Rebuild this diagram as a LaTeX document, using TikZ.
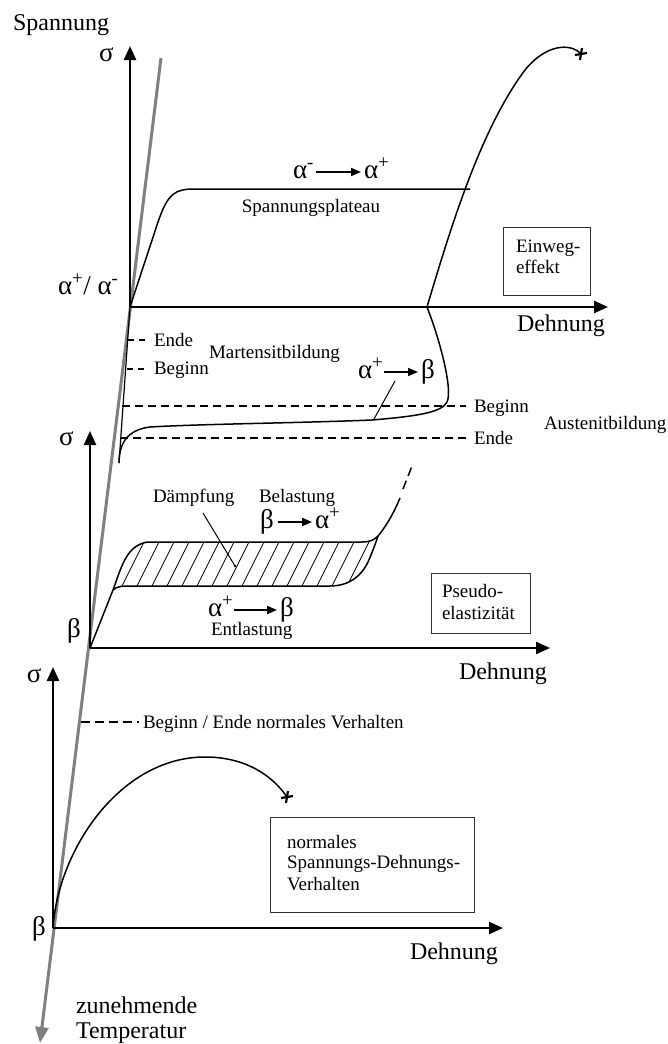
\documentclass[tikz,border=0pt]{standalone}
\usepackage{fontspec}
\setmainfont{Liberation Serif}
\usetikzlibrary{arrows.meta}
\begin{document}
\begin{tikzpicture}[x=1pt,y=-1pt,
 big/.style={font=\fontsize{24}{26}\selectfont,inner sep=0pt,outer sep=0pt},
 greek/.style={font=\fontsize{27}{29}\selectfont,inner sep=0pt,outer sep=0pt},
 small/.style={font=\fontsize{19}{21}\selectfont,inner sep=0pt,outer sep=0pt},
 axis/.style={line width=2.4pt,-{Triangle[length=14pt,width=12pt]}},
 crv/.style={line width=1.5pt},
 dsh/.style={line width=1.4pt,dash pattern=on 8pt off 5pt},
 sdsh/.style={line width=1.4pt,dash pattern=on 6pt off 5pt},
 trans/.style={line width=1.9pt,-{Triangle[length=10pt,width=8pt]}},
 frame/.style={draw=black!80,line width=0.9pt},
 temp/.style={draw=black!50,line width=3pt,-{Triangle[length=16pt,width=13pt]}},
 hatch/.style={line width=0.7pt},
 lead/.style={line width=1pt},
 brk/.style={line width=2.2pt}]
\useasboundingbox (0,0) rectangle (667,1044);

% temperature axis
\coordinate (Ttop) at (161,58);
\coordinate (Tbot) at (40,1043);
\draw[temp] (Ttop) -- (Tbot);
\node[big,anchor=base west] (zun) at (76,1013) {zunehmende};
\node[big,anchor=base west] (tem) at (76,1038) {Temperatur};

%================ top panel
\node[big,anchor=base west] (spann) at (13,30) {Spannung};
\coordinate (O1) at (130,307);
\coordinate (Y1) at (130,46);
\coordinate (X1) at (608,307);
\draw[axis] (O1) -- (Y1);
\draw[axis] (O1) -- (X1);
\node[greek,anchor=base west] (s1) at (99,61) {σ};
\node[greek,anchor=base west] (aa) at (58,294) {α\textsuperscript{+}/ α\textsuperscript{-}};
\node[big,anchor=base west] (d1) at (517,331) {Dehnung};

% plateau curve
\draw[crv] (O1) -- (158,222) .. controls (168,193) and (175,189) .. (195,189) -- (470,189);
% steep curve with fracture
\coordinate (F1) at (581,54);
\draw[crv] (427,307) .. controls (450,230) and (480,130) .. (525,70) .. controls (545,45) and (570,42) .. (F1);
\draw[brk] ([xshift=-6pt,yshift=-1pt]F1) -- ([xshift=6pt,yshift=1pt]F1);
\draw[brk] ([xshift=1pt,yshift=6pt]F1) -- ([xshift=-1pt,yshift=-6pt]F1);
% lower hysteresis part
\coordinate (L1) at (119,463);
\draw[crv] (427,307) .. controls (440,340) and (453,390) .. (447,402) .. controls (442,412) and (420,416) .. (372,420) .. controls (300,423) and (200,424) .. (150,427) .. controls (126,430) and (119,445) .. (L1);
\draw[line width=1.2pt] (O1) -- (L1);

\node[greek,anchor=base west] (am1) at (293,178) {α\textsuperscript{-}};
\node[greek,anchor=base west] (ap1) at (364,178) {α\textsuperscript{+}};
\draw[trans] ([xshift=2pt,yshift=6pt]am1.base east) -- ([xshift=-3pt,yshift=6pt]ap1.base west);
\node[small,anchor=base] (plat) at (311,212) {Spannungsplateau};

\draw[frame] (503,227) rectangle (590,295);
\node[small,anchor=base west] (ew1) at (516,252) {Einweg-};
\node[small,anchor=base west] (ew2) at (516,273) {effekt};

% transformation marks
\coordinate (e1a) at (128,340); \coordinate (e1b) at (149,340);
\draw[sdsh] (e1a) -- (e1b);
\node[small,anchor=base west] (ende1) at (154,346) {Ende};
\coordinate (b1a) at (127,369); \coordinate (b1b) at (148,369);
\draw[sdsh] (b1a) -- (b1b);
\node[small,anchor=base west] (beg1) at (154,374) {Beginn};
\node[small,anchor=base west] (mart) at (209,358) {Martensitbildung};

\coordinate (b2a) at (122,406); \coordinate (b2b) at (466,406);
\draw[dsh] (b2a) -- (b2b);
\node[small,anchor=base west] (beg2) at (474,412) {Beginn};
\coordinate (e2a) at (120,438); \coordinate (e2b) at (466,438);
\draw[dsh] (e2a) -- (e2b);
\node[small,anchor=base west] (ende2) at (474,444) {Ende};
\node[small,anchor=base west] (aust) at (544,429) {Austenitbildung};

\node[greek,anchor=base west] (ap2) at (358,378) {α\textsuperscript{+}};
\node[greek,anchor=base west] (b2) at (421,378) {β};
\draw[trans] ([xshift=1pt,yshift=6pt]ap2.base east) -- ([xshift=-3pt,yshift=6pt]b2.base west);
\coordinate (l1a) at (395,381); \coordinate (l1b) at (374,419);
\draw[lead] (l1a) -- (l1b);

%================ middle panel
\coordinate (O2) at (90,648);
\coordinate (Y2) at (90,431);
\coordinate (X2) at (550,648);
\draw[axis] (O2) -- (Y2);
\draw[axis] (O2) -- (X2);
\node[greek,anchor=base west] (s2) at (59,445) {σ};
\node[greek,anchor=base west] (bm) at (67,637) {β};
\node[big,anchor=base west] (d2) at (459,679) {Dehnung};

% hatched damping area
\begin{scope}
\clip (113,590) .. controls (122,565) and (127,545) .. (148,542) -- (362,542) .. controls (370,542) and (374,540) .. (378,536)
  .. controls (375,545) and (372,553) .. (368,562) .. controls (362,575) and (350,586) .. (330,586) -- (135,586) .. controls (122,586) and (117,586) .. (113,590) -- cycle;
\foreach \h in {70,85,...,400} \draw[hatch] (\h,600) -- ++(35,-70);
\end{scope}
\coordinate (P2) at (113,590);
\draw[crv] (O2) -- (P2) .. controls (122,565) and (127,545) .. (148,542) -- (362,542) .. controls (370,542) and (374,540) .. (378,536) .. controls (388,524) and (395,510) .. (400,498);
\draw[crv] (P2) .. controls (117,586) and (122,586) .. (135,586) -- (330,586) .. controls (350,586) and (362,575) .. (368,562) .. controls (372,553) and (375,545) .. (378,536);
\coordinate (q1) at (403,489); \coordinate (q2) at (412,466);
\draw[crv,dash pattern=on 9pt off 5pt] (q1) -- (q2);

\node[small,anchor=base west] (daem) at (153,502) {Dämpfung};
\node[small,anchor=base west] (bel) at (259,502) {Belastung};
\coordinate (l2a) at (203,513); \coordinate (l2b) at (235,566);
\draw[lead] (l2a) -- (l2b);
\fill (l2b) circle (1.3pt);
\node[greek,anchor=base west] (b3) at (260,528) {β};
\node[greek,anchor=base west] (ap3) at (315,528) {α\textsuperscript{+}};
\draw[trans] ([xshift=4pt,yshift=6pt]b3.base east) -- ([xshift=-3pt,yshift=6pt]ap3.base west);
\node[greek,anchor=base west] (ap4) at (208,616) {α\textsuperscript{+}};
\node[greek,anchor=base west] (b4) at (280,616) {β};
\draw[trans] ([xshift=1pt,yshift=6pt]ap4.base east) -- ([xshift=-3pt,yshift=6pt]b4.base west);
\node[small,anchor=base west] (entl) at (211,635) {Entlastung};

\draw[frame] (431,573) rectangle (530,633);
\node[small,anchor=base west] (ps1) at (442,597) {Pseudo-};
\node[small,anchor=base west] (ps2) at (442,619) {elastizität};

%================ bottom panel
\coordinate (O3) at (53,928);
\coordinate (Y3) at (53,667);
\coordinate (X3) at (503,928);
\draw[axis] (O3) -- (Y3);
\draw[axis] (O3) -- (X3);
\node[greek,anchor=base west] (s3) at (27,682) {σ};
\node[greek,anchor=base west] (bb) at (32,935) {β};
\node[big,anchor=base west] (d3) at (410,959) {Dehnung};

\coordinate (n1a) at (81,722); \coordinate (n1b) at (139,722);
\draw[line width=1.4pt,dash pattern=on 9pt off 5pt] (n1a) -- (n1b);
\node[small,anchor=base west] (norm) at (143,728) {Beginn / Ende normales Verhalten};

\coordinate (F3) at (287,797);
\draw[crv] (O3) .. controls (58,850) and (120,757) .. (205,757) .. controls (245,757) and (272,775) .. (F3);
\draw[brk] ([xshift=-6pt,yshift=-1pt]F3) -- ([xshift=6pt,yshift=1pt]F3);
\draw[brk] ([xshift=1pt,yshift=6pt]F3) -- ([xshift=-1pt,yshift=-6pt]F3);

\draw[frame] (270,817) rectangle (474,912);
\node[small,anchor=base west] (nb1) at (287,848) {normales};
\node[small,anchor=base west] (nb2) at (287,868) {Spannungs-Dehnungs-};
\node[small,anchor=base west] (nb3) at (287,890) {Verhalten};
\end{tikzpicture}
\end{document}
